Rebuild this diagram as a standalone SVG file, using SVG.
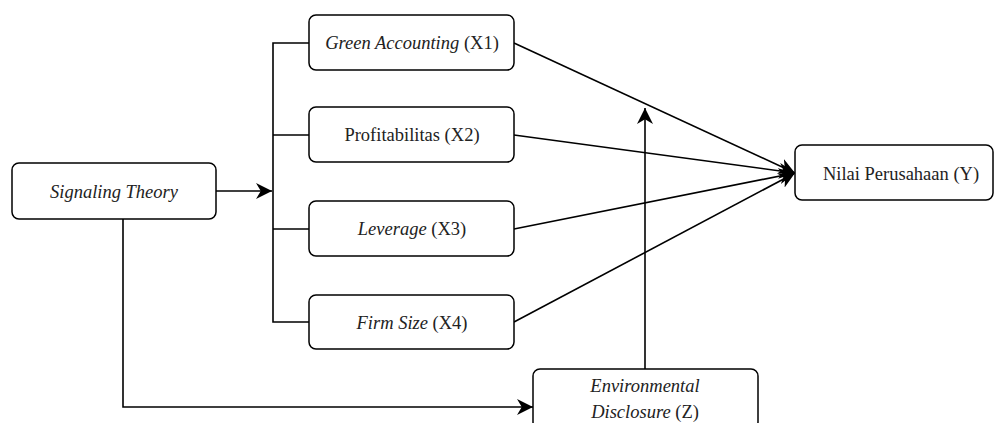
<svg xmlns="http://www.w3.org/2000/svg" width="997" height="423" viewBox="0 0 997 423">
<style>
.box{fill:#fff;stroke:#000;stroke-width:1.5}
.lbl{font-family:'Liberation Serif','Times New Roman',serif;font-size:18.5px;fill:#222;text-anchor:middle}
.it{font-style:italic}
.con{fill:none;stroke:#000;stroke-width:1.6}
</style>
<defs>
<marker id="ah" viewBox="0 0 10 10" refX="10" refY="5" markerWidth="16" markerHeight="16" markerUnits="userSpaceOnUse" orient="auto">
<path d="M0,0 L10,5 L0,10 L3,5 Z" fill="#000"/>
</marker>
</defs>
<g id="connectors">
<path class="con" d="M216,191 H272" marker-end="url(#ah)"/>
<path class="con" d="M309,43 H273 V322 H309"/>
<path class="con" d="M273,135 H309"/>
<path class="con" d="M273,229 H309"/>
<path class="con" d="M514,43 L795,173" marker-end="url(#ah)"/>
<path class="con" d="M514,135 L795,173" marker-end="url(#ah)"/>
<path class="con" d="M514,229 L795,173" marker-end="url(#ah)"/>
<path class="con" d="M514,322 L795,173" marker-end="url(#ah)"/>
<path class="con" d="M645,369 V108" marker-end="url(#ah)"/>
<path class="con" d="M123,219 V407 H533" marker-end="url(#ah)"/>
</g>
<g id="signaling">
<rect class="box" x="12" y="163" width="204" height="56" rx="7"/>
<text class="lbl it" x="114" y="198">Signaling Theory</text>
</g>
<g id="x1">
<rect class="box" x="309" y="15" width="205" height="55" rx="7"/>
<text class="lbl" x="412" y="49"><tspan class="it">Green Accounting</tspan> (X1)</text>
</g>
<g id="x2">
<rect class="box" x="309" y="107" width="205" height="55" rx="7"/>
<text class="lbl" x="412" y="141">Profitabilitas (X2)</text>
</g>
<g id="x3">
<rect class="box" x="309" y="201" width="205" height="55" rx="7"/>
<text class="lbl" x="412" y="235"><tspan class="it">Leverage</tspan> (X3)</text>
</g>
<g id="x4">
<rect class="box" x="309" y="295" width="205" height="54" rx="7"/>
<text class="lbl" x="412" y="329"><tspan class="it">Firm Size</tspan> (X4)</text>
</g>
<g id="y">
<rect class="box" x="795" y="145" width="198" height="55" rx="7"/>
<text class="lbl" x="901" y="180">Nilai Perusahaan (Y)</text>
</g>
<g id="z">
<rect class="box" x="533" y="369" width="225" height="60" rx="7"/>
<text class="lbl it" x="645" y="392">Environmental</text>
<text class="lbl" x="645" y="418"><tspan class="it">Disclosure</tspan> (Z)</text>
</g>
</svg>
